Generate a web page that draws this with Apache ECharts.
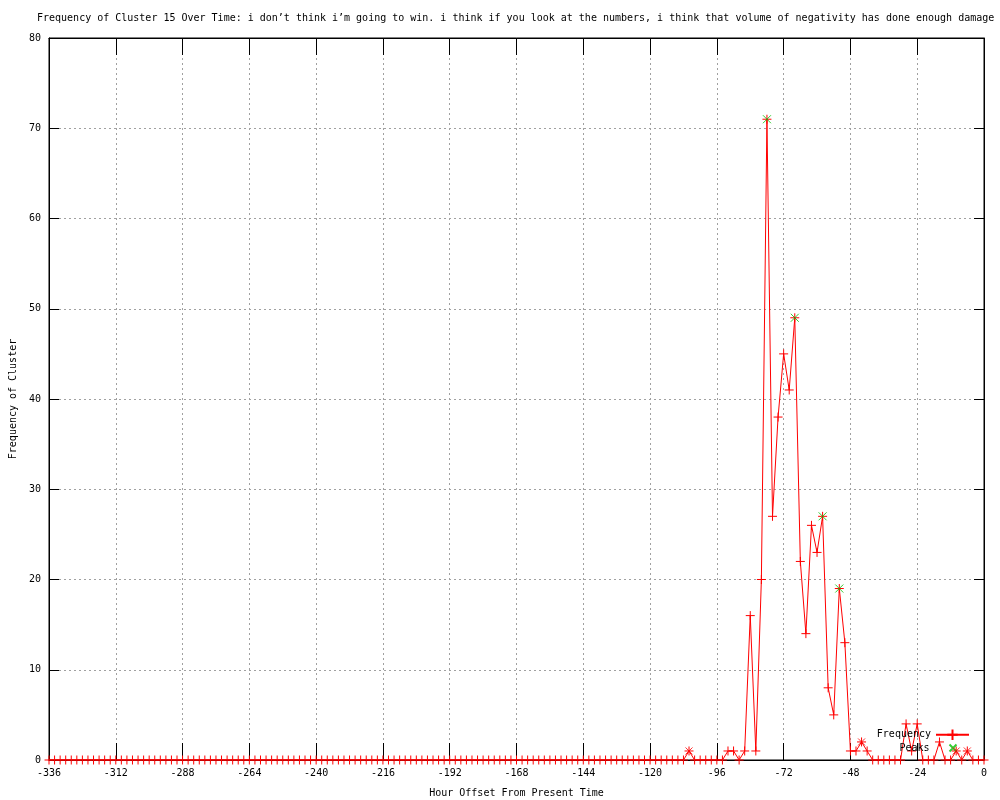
<!DOCTYPE html>
<html>
<head>
<meta charset="utf-8">
<script src="https://cdn.jsdelivr.net/npm/echarts@6/dist/echarts.min.js"></script>
<style>html,body{margin:0;padding:0;background:#fff}#c{width:1000px;height:800px}</style>
</head>
<body>
<div id="c"></div>
<script>
var titleText = 'Frequency of Cluster 15 Over Time: i don\u2019t think i\u2019m going to win. i think if you look at the numbers, i think that volume of negativity has done enough damage';
var xTitle = 'Hour Offset From Present Time';
var yTitle = 'Frequency of Cluster';

// hour offsets, every 2 hours from -336 to 0
var hours = [
-336,-334,-332,-330,-328,-326,-324,-322,-320,-318,-316,-314,-312,-310,-308,-306,-304,-302,-300,-298,
-296,-294,-292,-290,-288,-286,-284,-282,-280,-278,-276,-274,-272,-270,-268,-266,-264,-262,-260,-258,
-256,-254,-252,-250,-248,-246,-244,-242,-240,-238,-236,-234,-232,-230,-228,-226,-224,-222,-220,-218,
-216,-214,-212,-210,-208,-206,-204,-202,-200,-198,-196,-194,-192,-190,-188,-186,-184,-182,-180,-178,
-176,-174,-172,-170,-168,-166,-164,-162,-160,-158,-156,-154,-152,-150,-148,-146,-144,-142,-140,-138,
-136,-134,-132,-130,-128,-126,-124,-122,-120,-118,-116,-114,-112,-110,-108,-106,-104,-102,-100,-98,
-96,-94,-92,-90,-88,-86,-84,-82,-80,-78,-76,-74,-72,-70,-68,-66,-64,-62,-60,-58,
-56,-54,-52,-50,-48,-46,-44,-42,-40,-38,-36,-34,-32,-30,-28,-26,-24,-22,-20,-18,
-16,-14,-12,-10,-8,-6,-4,-2,0
];
var frequency = [
0,0,0,0,0,0,0,0,0,0,0,0,0,0,0,0,0,0,0,0,
0,0,0,0,0,0,0,0,0,0,0,0,0,0,0,0,0,0,0,0,
0,0,0,0,0,0,0,0,0,0,0,0,0,0,0,0,0,0,0,0,
0,0,0,0,0,0,0,0,0,0,0,0,0,0,0,0,0,0,0,0,
0,0,0,0,0,0,0,0,0,0,0,0,0,0,0,0,0,0,0,0,
0,0,0,0,0,0,0,0,0,0,0,0,0,0,0,1,0,0,0,0,
0,0,1,1,0,1,16,1,20,71,27,38,45,41,49,22,14,26,23,27,
8,5,19,13,1,1,2,1,0,0,0,0,0,0,4,1,4,0,0,0,
2,0,0,1,0,1,0,0,0
];
// main peaks (green)
var peakHours = [-78, -68, -58, -52];
var peakValues = [71, 49, 27, 19];
// minor peaks (drawn as red stars)
var minorPeakHours = [-106, -44, -10, -6];
var minorPeakValues = [1, 2, 1, 1];

var FONT = 'DejaVu Sans Mono';
var PLUS = 'path://M0,5L10,5M5,0L5,10';
var CROSS = 'path://M0,0L10,10M10,0L0,10';

function pairs(xs, ys) { return xs.map(function (x, i) { return [x, ys[i]]; }); }

var chart = echarts.init(document.getElementById('c'), null, {renderer: 'canvas'});
var axisText = {color: '#000', fontFamily: FONT, fontSize: 10};
var gridLine = {show: true, lineStyle: {color: '#a0a0a0', type: [2, 3], width: 1}};

chart.setOption({
  animation: false,
  backgroundColor: '#fff',
  title: {
    text: titleText, left: 37, top: 13, padding: 0,
    textStyle: {fontFamily: FONT, fontSize: 10, fontWeight: 'normal', color: '#000'}
  },
  legend: [{
    orient: 'vertical', right: 30, top: 727, align: 'right', padding: 0,
    itemWidth: 33, itemHeight: 13, itemGap: 0,
    textStyle: {fontFamily: FONT, fontSize: 10, color: '#000'},
    data: [{name: 'Frequency'}]
  }, {
    orient: 'vertical', right: 41, top: 742, align: 'right', padding: 0,
    itemWidth: 7, itemHeight: 7, itemGap: 0,
    textStyle: {fontFamily: FONT, fontSize: 10, color: '#000', padding: [0, 15, 0, 0]},
    data: [{name: 'Peaks', icon: CROSS}]
  }],
  grid: {left: 49, right: 16, top: 38, bottom: 40, show: true, borderColor: '#000', borderWidth: 1,
         outerBoundsMode: 'none', containLabel: false},
  xAxis: [{
    type: 'value', min: -336, max: 0, interval: 24,
    name: xTitle, nameLocation: 'middle', nameGap: 28,
    nameTextStyle: axisText,
    axisLine: {show: true, onZero: false, lineStyle: {color: '#000'}},
    axisTick: {show: true, inside: true, length: 17, lineStyle: {color: '#000'}},
    axisLabel: Object.assign({margin: 8}, axisText),
    splitLine: gridLine
  }, {
    type: 'value', min: -336, max: 0, interval: 24, position: 'top',
    axisLine: {show: true, onZero: false, lineStyle: {color: '#000'}},
    axisTick: {show: true, inside: true, length: 17, lineStyle: {color: '#000'}},
    axisLabel: {show: false}, splitLine: {show: false}
  }],
  yAxis: [{
    type: 'value', min: 0, max: 80, interval: 10,
    name: yTitle, nameLocation: 'middle', nameGap: 31, nameRotate: 90,
    nameTextStyle: axisText,
    axisLine: {show: true, onZero: false, lineStyle: {color: '#000'}},
    axisTick: {show: true, inside: true, length: 10, lineStyle: {color: '#000'}},
    axisLabel: Object.assign({margin: 8}, axisText),
    splitLine: gridLine
  }, {
    type: 'value', min: 0, max: 80, interval: 10, position: 'right',
    axisLine: {show: true, onZero: false, lineStyle: {color: '#000'}},
    axisTick: {show: true, inside: true, length: 10, lineStyle: {color: '#000'}},
    axisLabel: {show: false}, splitLine: {show: false}
  }],
  series: [{
    name: 'Frequency', type: 'line',
    data: pairs(hours, frequency),
    symbol: PLUS, symbolSize: 9, showSymbol: true,
    lineStyle: {color: '#ff0000', width: 1},
    itemStyle: {color: 'none', borderColor: '#ff0000', borderWidth: 1},
    z: 3
  }, {
    name: 'MinorPeaks', type: 'scatter',
    data: pairs(minorPeakHours, minorPeakValues),
    symbol: CROSS, symbolSize: 7,
    itemStyle: {color: 'none', borderColor: '#ff0000', borderWidth: 1},
    z: 4
  }, {
    name: 'Peaks', type: 'scatter',
    data: pairs(peakHours, peakValues),
    symbol: CROSS, symbolSize: 8,
    itemStyle: {color: 'none', borderColor: '#00c000', borderWidth: 1},
    z: 5
  }]
});
</script>
</body>
</html>
